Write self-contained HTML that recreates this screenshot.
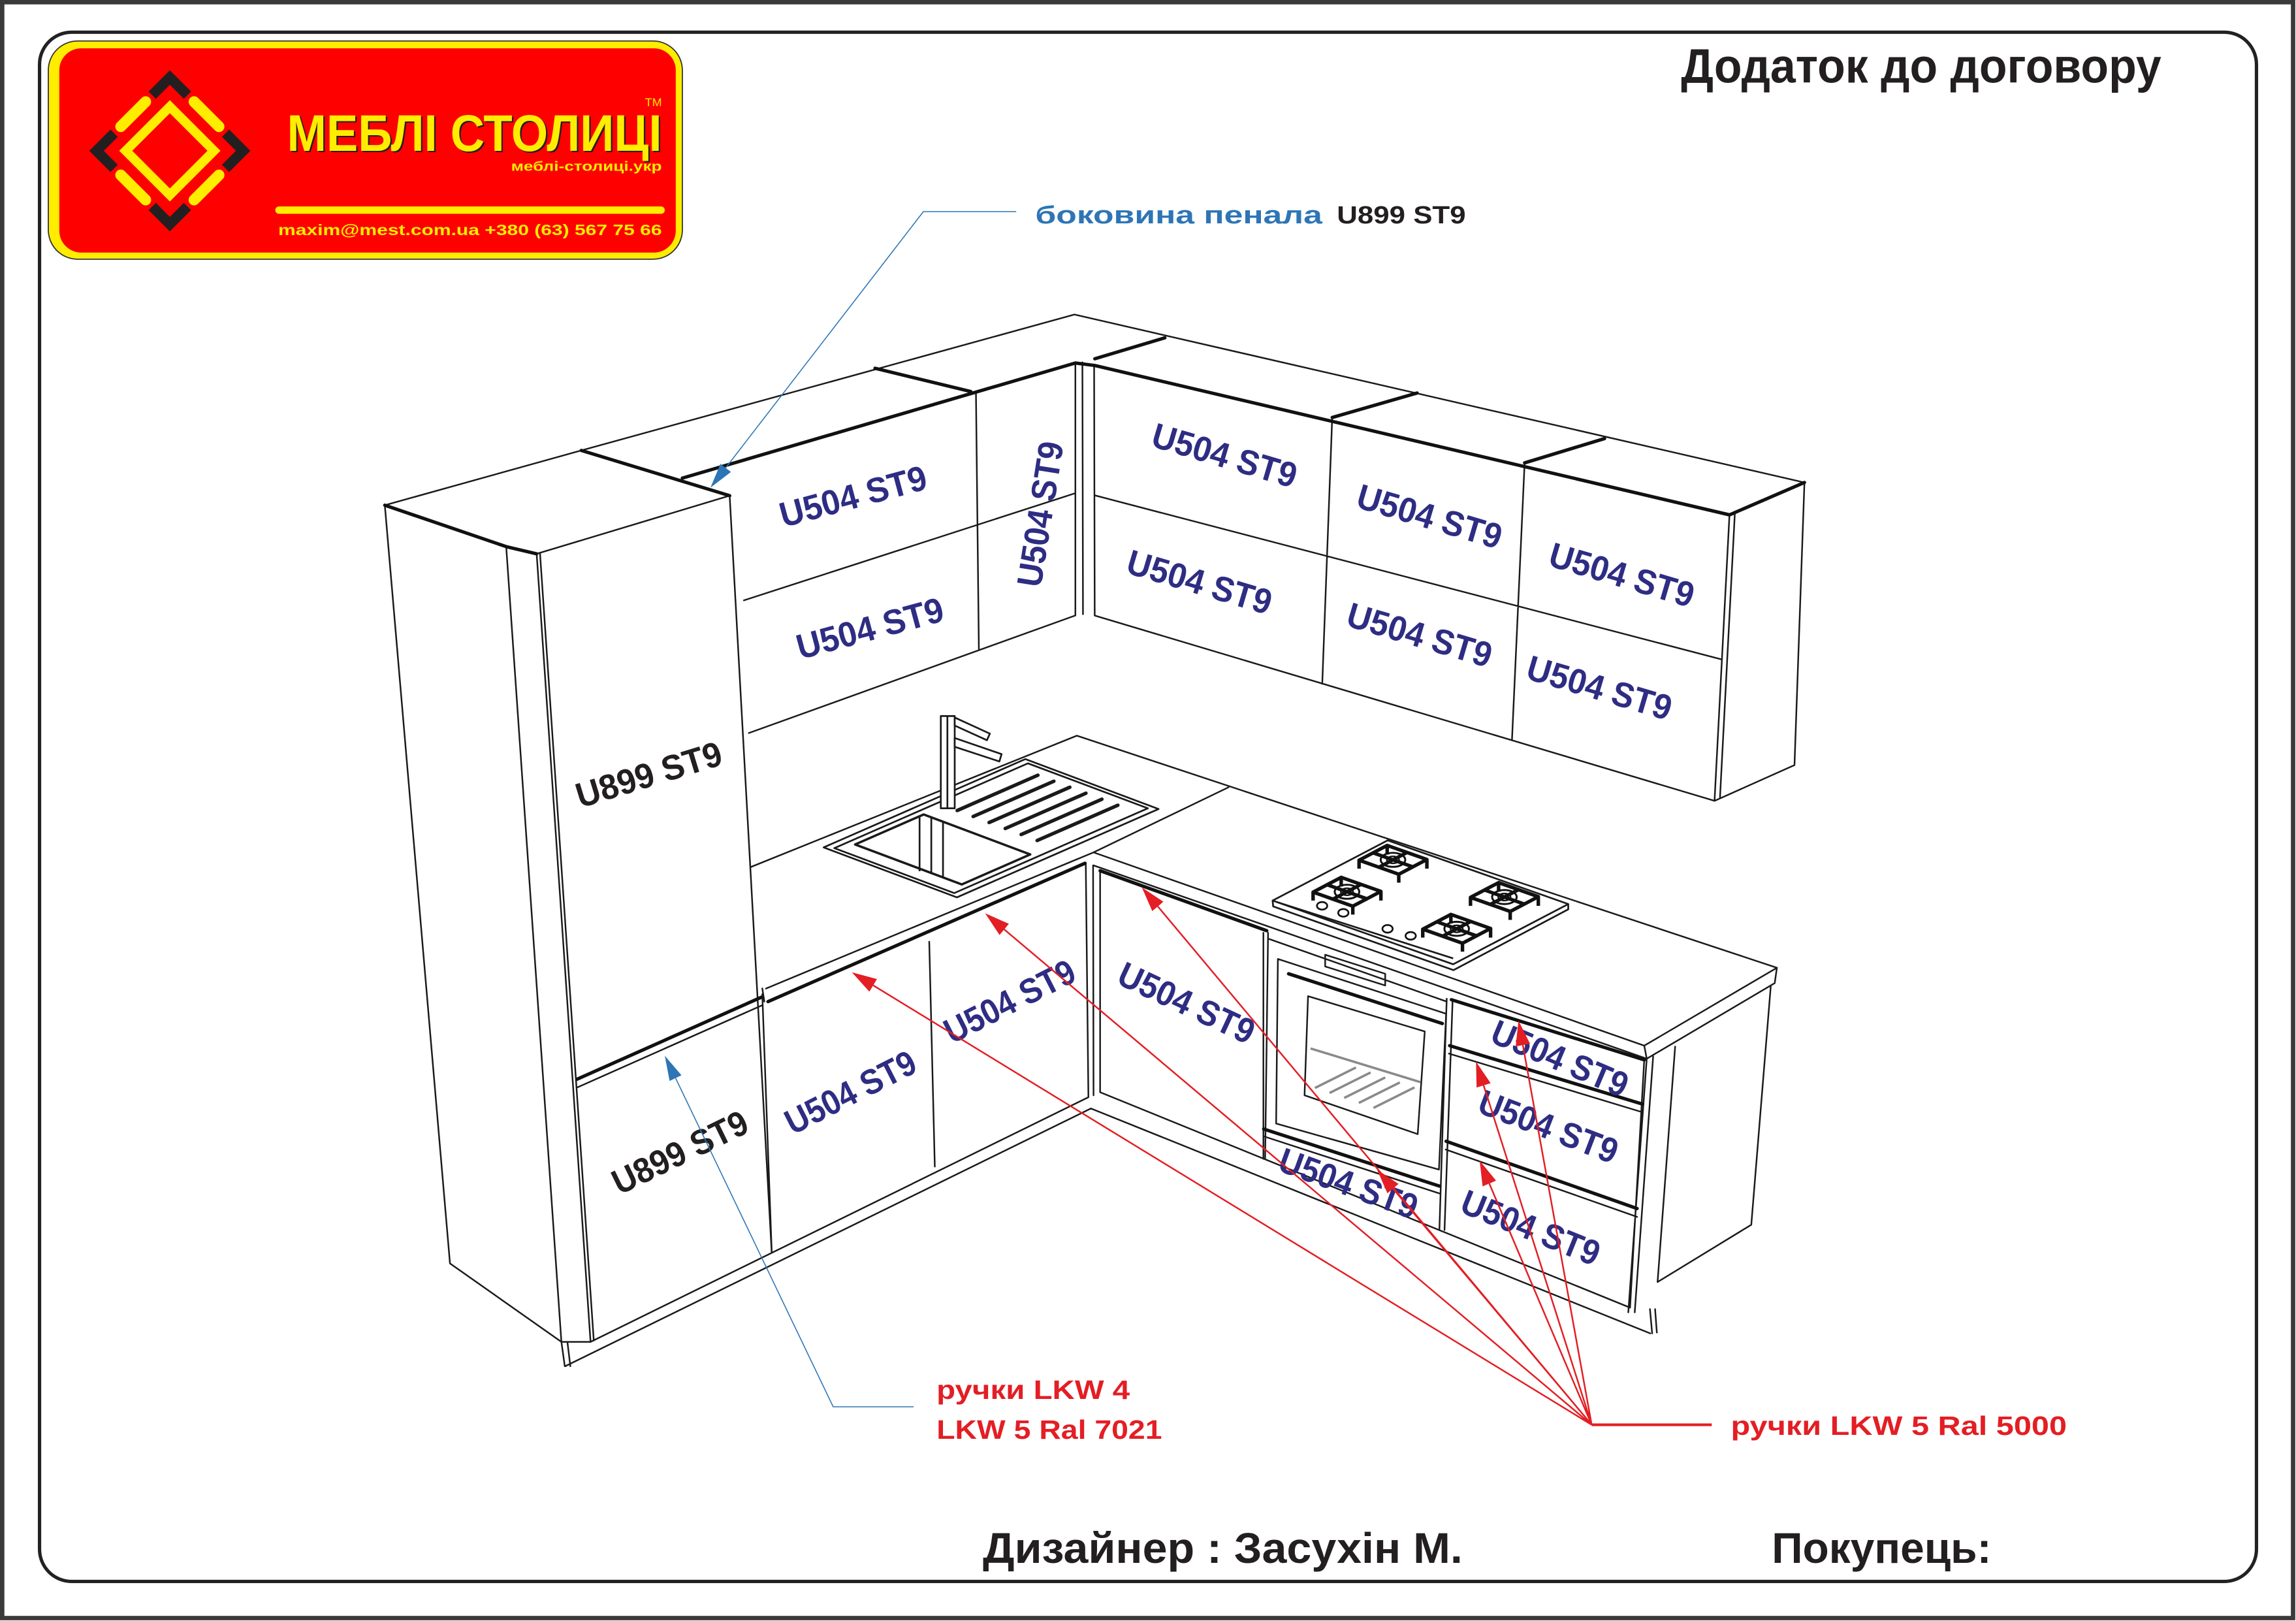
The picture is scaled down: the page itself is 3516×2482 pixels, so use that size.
<!DOCTYPE html>
<html><head><meta charset="utf-8">
<style>
html,body{margin:0;padding:0;background:#fff;overflow:hidden;}
svg{display:block;}
text{font-family:"Liberation Sans","DejaVu Sans",sans-serif;font-weight:bold;}
</style></head><body>
<svg xmlns="http://www.w3.org/2000/svg" width="3516" height="2482" viewBox="0 0 1568 1107" preserveAspectRatio="none">
<rect x="0" y="0" width="1568" height="1107" fill="#fff"/>
<rect x="1.5" y="1.5" width="1564.5" height="1103.5" fill="none" stroke="#3a3a3a" stroke-width="3"/>
<rect x="27" y="22" width="1514" height="1058" rx="22" ry="22" fill="none" stroke="#222" stroke-width="2.3"/>

<!-- LOGO -->
<rect x="33" y="28" width="433" height="149" rx="20" fill="#ffed00" stroke="#333" stroke-width="0.8"/>
<rect x="40.5" y="33" width="421" height="139.5" rx="15" fill="#ff0000"/>
<g transform="translate(116,103) rotate(45)">
 <rect x="-21.3" y="-21.3" width="42.6" height="42.6" fill="none" stroke="#ffed00" stroke-width="6.3"/>
 <g stroke="#ffed00" stroke-width="7.5" stroke-linecap="round">
  <line x1="-35.4" y1="-12" x2="-35.4" y2="12"/>
  <line x1="35.4" y1="-12" x2="35.4" y2="12"/>
  <line x1="-12" y1="-35.4" x2="12" y2="-35.4"/>
  <line x1="-12" y1="35.4" x2="12" y2="35.4"/>
 </g>
 <g stroke="#231f20" stroke-width="7" fill="none" stroke-linejoin="miter">
  <polyline points="-35.4,-18.4 -35.4,-35.4 -18.4,-35.4"/>
  <polyline points="18.4,-35.4 35.4,-35.4 35.4,-18.4"/>
  <polyline points="35.4,18.4 35.4,35.4 18.4,35.4"/>
  <polyline points="-18.4,35.4 -35.4,35.4 -35.4,18.4"/>
 </g>
</g>
<text x="196" y="103" font-size="35" textLength="256" lengthAdjust="spacingAndGlyphs" fill="#231f20" transform="translate(1,1)">МЕБЛІ СТОЛИЦІ</text>
<text x="196" y="103" font-size="35" textLength="256" lengthAdjust="spacingAndGlyphs" fill="#ffed00">МЕБЛІ СТОЛИЦІ</text>
<text x="452" y="72.5" font-size="8" text-anchor="end" fill="#ffed00" style="font-weight:normal">TM</text>
<text x="349" y="116.7" font-size="9" textLength="103" lengthAdjust="spacingAndGlyphs" fill="#ffed00">меблі-столиці.укр</text>
<rect x="188" y="141" width="266" height="5" rx="2.5" fill="#ffed00"/>
<text x="190" y="160.6" font-size="10.5" textLength="262" lengthAdjust="spacingAndGlyphs" fill="#ffed00">maxim@mest.com.ua  +380 (63) 567 75 66</text>

<!-- HEADER -->
<text x="1148" y="56.5" font-size="33" textLength="328" lengthAdjust="spacingAndGlyphs" fill="#231f20">Додаток до договору</text>

<!-- KITCHEN thin lines -->
<g fill="none" stroke="#1a1a1a" stroke-width="1.1" stroke-linejoin="round" stroke-linecap="round">
<path d="M262.8,345 L397,307.6 L733.8,214.8 L1232.3,329.5
M498.3,338.5 L366.5,378.2
M262.8,345 L307.3,862.8 L383.4,916.4 L403.3,916.4 L743.3,749.3
M345.7,373.3 L383.4,916.4
M366.5,378.2 L403.3,916.4
M368.8,378 L405.5,915.5
M498.3,338.5 L527,855
M383.4,916.4 L385.7,933 M387.5,916.4 L389.5,933 M386,933 L745,757 L1127,910.6
M394.5,742.5 L520.5,686.5
M666.5,267.4 L668.5,443.5
M508,410 L734.4,336.8
M511.4,500.6 L734.4,420.3
M734.4,247.9 L734.4,420.3
M739.2,247.4 L739.6,419.5
M747.2,249.6 L747.6,420.4
M909.8,285.1 L903,467
M1041.2,316.1 L1032.6,504.8
M1181.1,351.6 L1170.9,546.9
M1184.8,350 L1174.6,545.3
M1232.3,329.5 L1225.5,522.5 L1170.9,546.9
M747.7,338.3 L1176,450.4
M747.7,420.4 L1170.9,546.9
M513,592 L735.4,502.4 L1213.5,660.9
M838.9,537.7 L746.8,582.1
M523.1,675.1 L746.8,582.1 L1122.9,714.1 L1213.5,660.9 L1212,671.4 L1124.6,723 L1122.9,714.1
M746.8,591 L1124.6,723
M520.6,675 L522,684
M520.6,678.9 L527,854.3
M634.6,643.1 L638.4,796.7
M741.5,589.5 L743.3,749.3
M746.5,591 L746.8,748
M751.3,594.6 L751.3,745.9
M751.3,745.9 L1113.2,893
M862.8,637 L862.8,791.4
M866,637 L864,791
M866,641 L988,684
M872.7,654.9 L987.6,692.3 L982.7,798.7 L871.5,767.3 Z
M893.3,680.3 L973,704.4 L968.2,774.5 L890.9,748 Z
M863,776 L983,815
M988,682 L983,840
M992,683.5 L986.5,840
M1122.9,723.8 L1113.2,893
M989.5,719.5 L1121.5,759.5
M987.3,785 L1118,831
M1124.6,723 L1112,896.2
M1129,721 L1116.4,896.2
M1144,714.7 L1132,875.5 L1196,836.4 L1209.3,673.5
M1126.8,894 L1128.3,910.6 M1130.3,894 L1131.5,910
M905,652 L946,665 L946,673 L905,660 Z"/>
</g>
<!-- oven racks -->
<g stroke="#8a8a8a" stroke-width="1.6" fill="none">
<path d="M898,743 L926,729 M908,746.4 L936,732.4 M918,749.8 L946,735.8 M928,753.2 L956,739.2 M938,756.6 L966,742.6 M895,716 L970,739"/>
</g>
<!-- thick lines -->
<g fill="none" stroke="#111" stroke-width="2.3" stroke-linejoin="round" stroke-linecap="round">
<path d="M397,307.6 L498.3,338.5
M262.8,345 L345.7,373.3 L366.5,378.2
M466,326.5 L734.4,247.9
M597.6,251.5 L663,267.4
M734.4,247.9 L747.7,249.6 L1181.1,351.6 L1232.3,329.5
M747.7,245 L795.5,230.7
M909.8,285.1 L967.8,268.4
M1041.2,316.1 L1095.8,299.5
M394.1,737 L520,681
M524.5,684 L741,589.5
M751.3,594.6 L865.1,635.6
M991.2,682.7 L1122.9,723.8
M990,714.1 L1121.7,754
M987.6,779.4 L1118,825.3
M863,771 L983,810
M880,665 L985,699"/>
</g>

<!-- SINK -->
<g fill="#fff" stroke="#1a1a1a" stroke-width="1.2" stroke-linejoin="round">
<path d="M562.5,578.7 L700.2,518.4 L791.2,552.5 L653.5,612.8 Z"/>
<path d="M569.8,579.2 L702,521.3 L783.9,552 L651.7,609.9 Z" fill="none"/>
<path d="M584,576.7 L630.8,556.2 L703.6,583.5 L656.8,604 Z" stroke-width="1.6"/>
<path d="M628,557.4 L628,595 M636,558.2 L636,597 M644,561.2 L644,599" fill="none"/>
</g>
<g stroke="#1a1a1a" stroke-width="2.4" stroke-linecap="round">
<path d="M653.7,553.5 L708.8,529.4 M664.6,557.6 L719.7,533.5 M675.5,561.7 L730.6,537.6 M686.5,565.8 L741.6,541.7 M697.4,569.9 L752.5,545.8 M708.3,574 L763.4,549.9"/>
</g>
<g fill="#fff" stroke="#1a1a1a" stroke-width="1.2" stroke-linejoin="round">
<rect x="642.5" y="489" width="9.5" height="63"/>
<path d="M647,489 L647,552" fill="none"/>
<path d="M652,490 L676,501 L674,505.5 L652,495.5 Z"/>
<path d="M652,504 L684,515 L682.5,520 L652,510 Z"/>
</g>

<!-- COOKTOP -->
<g fill="#fff" stroke="#1a1a1a" stroke-width="1.2" stroke-linejoin="round">
<path d="M869.1,615 L947.7,573.9 L1071,617.4 L992.4,658.5 Z"/>
<path d="M869.1,615 L869.5,619 L992.6,662.5 L1071,621 L1071,617.4" fill="none"/>
<path d="M872,616 L992.4,654.5" fill="none"/>
</g>
<g fill="none" stroke="#111" stroke-width="2" stroke-linejoin="round">
 <g transform="translate(951.3,587.2) scale(1.2)">
  <ellipse cx="0" cy="0" rx="7" ry="4" stroke-width="1.1"/><ellipse cx="0" cy="0" rx="3.5" ry="2" stroke-width="0.9"/>
  <path d="M19.3,-0.2 L3.3,8.2 L-19.3,0.2 L-3.3,-8.2 Z M-11.3,-4 L11.3,4 M-8,4.2 L8,-4.2 M19.3,-0.2 L19.3,5 M3.3,8.2 L3.3,13 M-19.3,0.2 L-19.3,5 M-3.3,-8.2 L-3.3,-3"/>
 </g>
 <g transform="translate(919.9,609) scale(1.2)">
  <ellipse cx="0" cy="0" rx="7" ry="4" stroke-width="1.1"/><ellipse cx="0" cy="0" rx="3.5" ry="2" stroke-width="0.9"/>
  <path d="M19.3,-0.2 L3.3,8.2 L-19.3,0.2 L-3.3,-8.2 Z M-11.3,-4 L11.3,4 M-8,4.2 L8,-4.2 M19.3,-0.2 L19.3,5 M3.3,8.2 L3.3,13 M-19.3,0.2 L-19.3,5 M-3.3,-8.2 L-3.3,-3"/>
 </g>
 <g transform="translate(1027.4,612.6) scale(1.2)">
  <ellipse cx="0" cy="0" rx="7" ry="4" stroke-width="1.1"/><ellipse cx="0" cy="0" rx="3.5" ry="2" stroke-width="0.9"/>
  <path d="M19.3,-0.2 L3.3,8.2 L-19.3,0.2 L-3.3,-8.2 Z M-11.3,-4 L11.3,4 M-8,4.2 L8,-4.2 M19.3,-0.2 L19.3,5 M3.3,8.2 L3.3,13 M-19.3,0.2 L-19.3,5 M-3.3,-8.2 L-3.3,-3"/>
 </g>
 <g transform="translate(994.8,634.3) scale(1.2)">
  <ellipse cx="0" cy="0" rx="7" ry="4" stroke-width="1.1"/><ellipse cx="0" cy="0" rx="3.5" ry="2" stroke-width="0.9"/>
  <path d="M19.3,-0.2 L3.3,8.2 L-19.3,0.2 L-3.3,-8.2 Z M-11.3,-4 L11.3,4 M-8,4.2 L8,-4.2 M19.3,-0.2 L19.3,5 M3.3,8.2 L3.3,13 M-19.3,0.2 L-19.3,5 M-3.3,-8.2 L-3.3,-3"/>
 </g>
</g>
<g fill="#fff" stroke="#111" stroke-width="1.2">
<ellipse cx="902.9" cy="618.6" rx="3.5" ry="2.6"/><ellipse cx="917.4" cy="623.4" rx="3.5" ry="2.6"/>
<ellipse cx="947.6" cy="634.3" rx="3.5" ry="2.6"/><ellipse cx="963.4" cy="639.1" rx="3.5" ry="2.6"/>
</g>

<!-- LABELS blue -->
<g font-size="24" text-anchor="middle" fill="#2e2d83">
<g transform="translate(582.5,338.5) rotate(-15)"><text x="0" y="8.7" textLength="103" lengthAdjust="spacingAndGlyphs">U504 ST9</text></g>
<g transform="translate(594,428.6) rotate(-15)"><text x="0" y="8.7" textLength="103" lengthAdjust="spacingAndGlyphs">U504 ST9</text></g>
<g transform="translate(710,351) rotate(-81)"><text x="0" y="8.7" textLength="100" lengthAdjust="spacingAndGlyphs">U504 ST9</text></g>
<g transform="translate(836.4,310.6) rotate(16.5)"><text x="0" y="8.7" textLength="102" lengthAdjust="spacingAndGlyphs">U504 ST9</text></g>
<g transform="translate(976.4,352.3) rotate(16.5)"><text x="0" y="8.7" textLength="102" lengthAdjust="spacingAndGlyphs">U504 ST9</text></g>
<g transform="translate(1107.7,392.2) rotate(16.5)"><text x="0" y="8.7" textLength="102" lengthAdjust="spacingAndGlyphs">U504 ST9</text></g>
<g transform="translate(819.3,397.1) rotate(16.5)"><text x="0" y="8.7" textLength="102" lengthAdjust="spacingAndGlyphs">U504 ST9</text></g>
<g transform="translate(969.6,433.2) rotate(16.5)"><text x="0" y="8.7" textLength="102" lengthAdjust="spacingAndGlyphs">U504 ST9</text></g>
<g transform="translate(1092.4,469.3) rotate(16.5)"><text x="0" y="8.7" textLength="102" lengthAdjust="spacingAndGlyphs">U504 ST9</text></g>
<g transform="translate(580.6,745.5) rotate(-27)"><text x="0" y="8.7" textLength="97" lengthAdjust="spacingAndGlyphs">U504 ST9</text></g>
<g transform="translate(689.3,683.4) rotate(-27)"><text x="0" y="8.7" textLength="97" lengthAdjust="spacingAndGlyphs">U504 ST9</text></g>
<g transform="translate(810.5,684.5) rotate(25)"><text x="0" y="8.7" textLength="100" lengthAdjust="spacingAndGlyphs">U504 ST9</text></g>
<g transform="translate(921,807.8) rotate(20)"><text x="0" y="8.7" textLength="99" lengthAdjust="spacingAndGlyphs">U504 ST9</text></g>
<g transform="translate(1065.5,722.5) rotate(23)"><text x="0" y="8.7" textLength="99" lengthAdjust="spacingAndGlyphs">U504 ST9</text></g>
<g transform="translate(1057.6,769) rotate(21)"><text x="0" y="8.7" textLength="100" lengthAdjust="spacingAndGlyphs">U504 ST9</text></g>
<g transform="translate(1045.5,838) rotate(22)"><text x="0" y="8.7" textLength="100" lengthAdjust="spacingAndGlyphs">U504 ST9</text></g>
</g>
<!-- LABELS dark -->
<g font-size="24" text-anchor="middle" fill="#231f20">
<g transform="translate(443,528.5) rotate(-17)"><text x="0" y="8.7" textLength="103" lengthAdjust="spacingAndGlyphs">U899 ST9</text></g>
<g transform="translate(464.2,786.5) rotate(-26)"><text x="0" y="8.7" textLength="100" lengthAdjust="spacingAndGlyphs">U899 ST9</text></g>
</g>

<!-- BLUE LEADERS -->
<g stroke="#2e75b6" stroke-width="0.7" fill="none">
<path d="M694,144.5 L630.6,144.5 L495.6,319.5"/>
<path d="M624,960.7 L569,960.7 L461.4,736.3"/>
</g>
<g fill="#2e75b6">
<polygon points="485.2,333 499.2,322.3 492,316.8"/>
<polygon points="454,721 457.3,738.2 465.4,734.3"/>
</g>

<!-- RED LEADERS -->
<g stroke="#e31e24" stroke-width="1.1" fill="none">
<path d="M1087,973 L596.3,672.9 M1087,973 L685.8,634.7 M1087,973 L790.7,619 M1087,973 L951.3,811.7 M1087,973 L1040,713.7 M1087,973 L1013.2,741.2 M1087,973 L1017.1,808.3"/>
<path d="M1087,973 L1169,973" stroke-width="1.8"/>
</g>
<g fill="#e31e24">
<polygon points="581.8,664 593.7,677.2 598.9,668.6"/>
<polygon points="672.8,623.7 682.6,638.5 689,630.9"/>
<polygon points="779.8,606 786.9,622.2 794.5,615.8"/>
<polygon points="940.4,798.7 947.5,814.9 955.1,808.5"/>
<polygon points="1037,697 1035.1,714.6 1044.9,712.8"/>
<polygon points="1008,725 1008.4,742.7 1018,739.7"/>
<polygon points="1010.5,792.6 1012.5,810.2 1021.7,806.3"/>
</g>

<!-- ANNOTATION TEXT -->
<text x="707" y="152.5" font-size="17" textLength="196" lengthAdjust="spacingAndGlyphs" fill="#2e75b6">боковина пенала</text>
<text x="913" y="152.5" font-size="17" textLength="88" lengthAdjust="spacingAndGlyphs" fill="#231f20">U899 ST9</text>
<text x="639.6" y="955.3" font-size="18" textLength="132" lengthAdjust="spacingAndGlyphs" fill="#e31e24">ручки LKW 4</text>
<text x="639.6" y="982.5" font-size="18" textLength="154" lengthAdjust="spacingAndGlyphs" fill="#e31e24">LKW 5 Ral 7021</text>
<text x="1182" y="979.8" font-size="18" textLength="229.5" lengthAdjust="spacingAndGlyphs" fill="#e31e24">ручки LKW 5 Ral 5000</text>

<!-- FOOTER -->
<text x="671.2" y="1067.3" font-size="29.5" textLength="327.7" lengthAdjust="spacingAndGlyphs" fill="#231f20">Дизайнер : Засухін М.</text>
<text x="1210" y="1067.3" font-size="29.5" textLength="150" lengthAdjust="spacingAndGlyphs" fill="#231f20">Покупець:</text>
</svg>
</body></html>
